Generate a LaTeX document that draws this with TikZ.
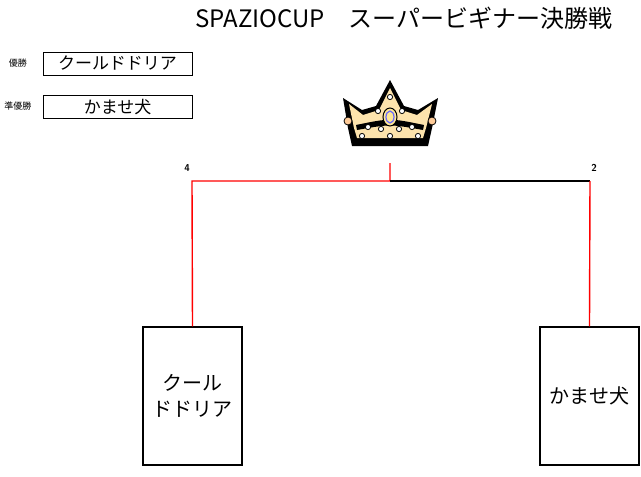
\documentclass[tikz,border=0pt]{standalone}
\usepackage{fontspec}
\newfontfamily\cjk{Noto Sans CJK JP}
\begin{document}
\begin{tikzpicture}[x=1pt,y=-1pt,
  namebox/.style={draw,thick,minimum width=149pt,minimum height=23pt,inner sep=0pt,font=\cjk\fontsize{17}{18}\selectfont},
  teambox/.style={draw,line width=1.2pt,minimum width=99pt,minimum height=138pt,inner sep=0pt,align=center,font=\cjk\fontsize{20}{26}\selectfont},
  small/.style={font=\cjk\fontsize{9}{10}\selectfont},
  score/.style={font=\sffamily\bfseries\fontsize{10}{11}\selectfont},
  redline/.style={draw=red,line width=1.4pt},
  blackline/.style={draw=black,line width=1.4pt},
  jewel/.style={fill=white,draw=black,line width=0.8pt}]
\useasboundingbox (0,0) rectangle (641,477);
\node[font=\cjk\fontsize{24}{25}\selectfont,inner sep=0pt] (title) at (404,18) {SPAZIOCUP\hspace{1em}スーパービギナー決勝戦};
\node[small] (l1) at (18,63) {優勝};
\node[namebox] (w1) at (117.5,63.5) {クールドドリア};
\node[small] (l2) at (18,106) {準優勝};
\node[namebox] (w2) at (117.5,107) {かませ犬};
\node[teambox] (A) at (192.5,396) {クール\\ドドリア};
\node[teambox] (B) at (589.5,396) {かませ犬};
\coordinate (ja) at (192,181);
\coordinate (jb) at (590,181);
\coordinate (top) at (390,181);
\coordinate (win) at (390,163);
\draw[redline] (A.north) -- (ja) -- (top) -- (win);
\draw[blackline] (top) -- (jb);
\draw[redline] (B.north) -- (jb);
\node[score] (s1) at (187,168) {4};
\node[score] (s2) at (594,168) {2};
% crown
\fill[black] (343,98) -- (362,110) -- (376,106) -- (390,80) -- (404,106) -- (418,110) -- (438,98) -- (432,128) -- (428,146) -- (352,146) -- (348,128) -- cycle;
\fill[yellow!35!orange!30!white] (349,104) -- (363,115) -- (379,110) -- (390,88) -- (401,110) -- (417,115) -- (432,104) -- (426,128) -- (423,138) -- (357,138) -- (354,128) -- cycle;
\fill[black] (356,125) .. controls (390,118) .. (424,125) -- (423,130) .. controls (390,124) .. (357,130) -- cycle;
\draw[fill=yellow!60!orange!40,line width=1pt] (390,117) ellipse (7 and 9);
\draw[blue!60,line width=1.2pt] (390,117) ellipse (4 and 6);
\foreach \p in {(390,97),(381,129),(399,129),(390,136),(368,127),(412,127),(362,136),(418,136),(378,111),(402,111)}
  \draw[jewel] \p circle (2.6);
\draw[fill=orange!40,line width=0.8pt] (348,121) circle (4);
\draw[fill=orange!40,line width=0.8pt] (432,121) circle (4);
\end{tikzpicture}
\end{document}
